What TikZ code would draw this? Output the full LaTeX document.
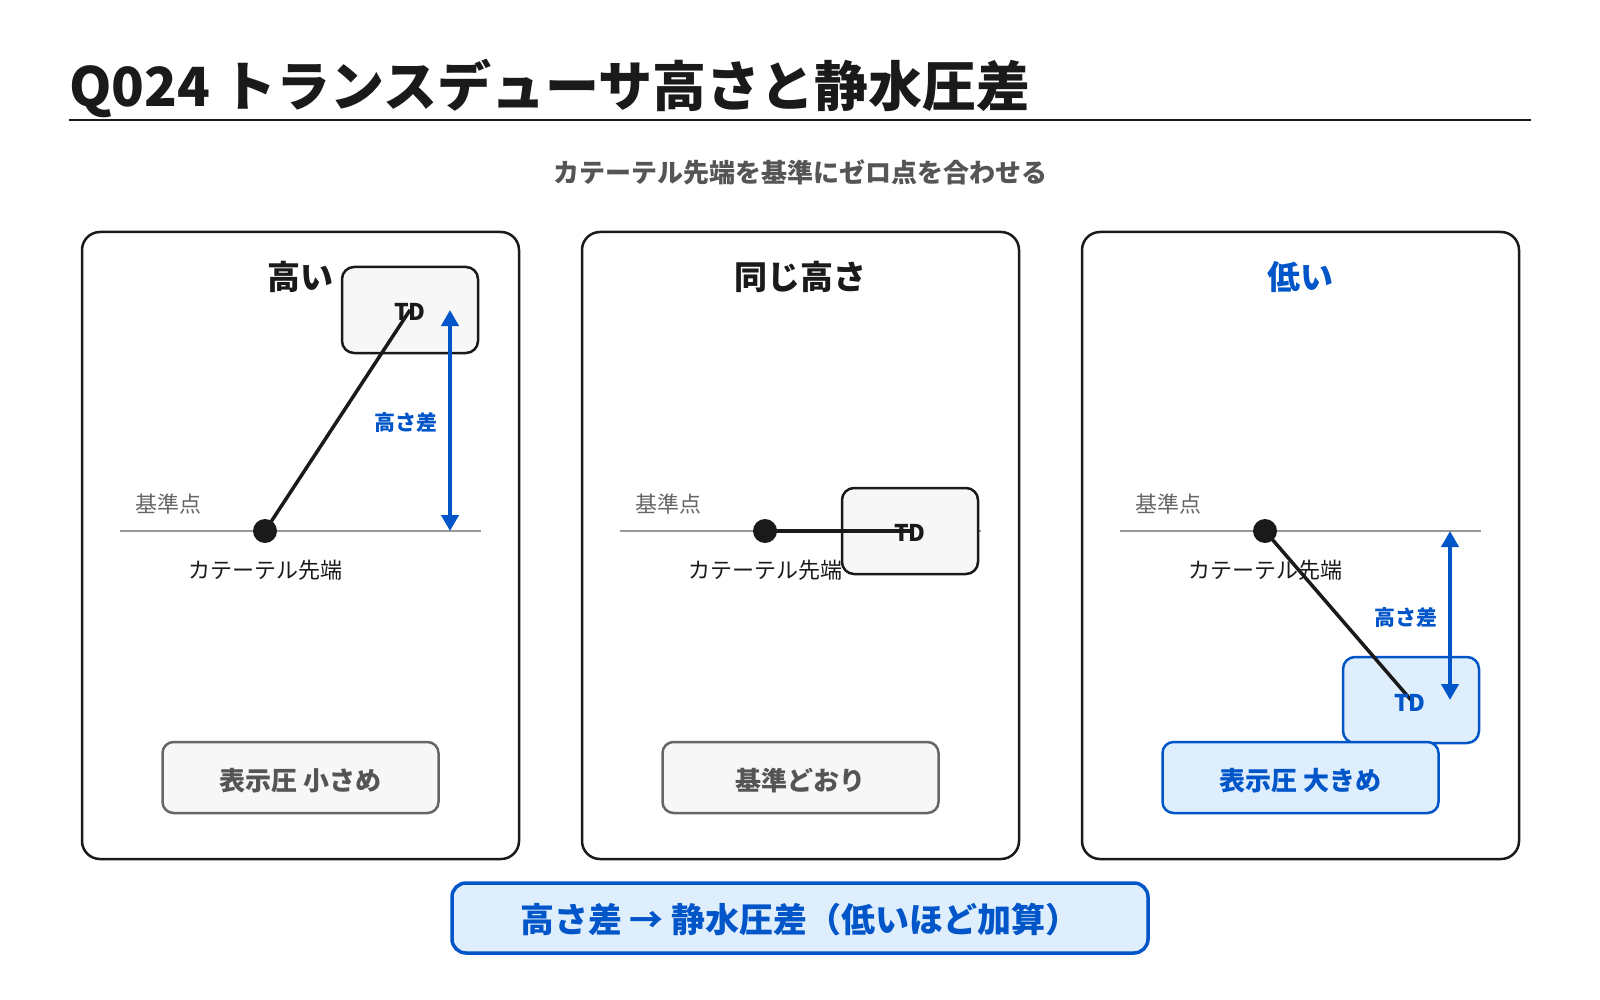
\documentclass[tikz,border=0pt]{standalone}
\usepackage{fontspec}
\setmainfont{Noto Sans CJK JP}
\usetikzlibrary{arrows.meta}
\definecolor{ink}{HTML}{1A1A1A}
\definecolor{refgray}{HTML}{999999}
\definecolor{labgray}{HTML}{666666}
\definecolor{subgray}{HTML}{555555}
\definecolor{boxgray}{HTML}{F7F7F7}
\definecolor{accent}{HTML}{0055C8}
\definecolor{lightblue}{HTML}{DFEEFD}
\newcommand{\fs}[1]{\fontsize{#1}{#1}\selectfont}
\begin{document}
\begin{tikzpicture}[x=1pt,y=-1pt,
  panel/.style={draw=ink, line width=2.5pt, rounded corners=18pt, fill=white,
    minimum width=437pt, minimum height=627pt, inner sep=0pt},
  ptitle/.style={font=\fs{33}\bfseries, text=ink, inner sep=0pt},
  refline/.style={draw=refgray, line width=1.8pt},
  reflab/.style={font=\fs{22}, text=labgray, anchor=west, inner sep=0pt},
  tiplab/.style={font=\fs{22}, text=ink, inner sep=0pt},
  tipdot/.style={circle, fill=ink, minimum size=24pt, inner sep=0pt},
  tdbox/.style={draw=ink, line width=2.5pt, rounded corners=12pt, fill=boxgray,
    minimum width=136pt, minimum height=86pt, inner sep=0pt},
  tdblue/.style={tdbox, draw=accent, fill=lightblue},
  tdtext/.style={font=\fs{23}\bfseries, text=ink, inner sep=0pt},
  cath/.style={draw=ink, line width=3.5pt},
  dim/.style={draw=accent, line width=4pt,
    {Triangle[width=17pt,length=16pt]}-{Triangle[width=17pt,length=16pt]}},
  dimlab/.style={font=\fs{21}\bfseries, text=accent, anchor=east, inner sep=0pt},
  resbox/.style={draw=labgray, line width=2.5pt, rounded corners=11pt, fill=boxgray,
    minimum width=276pt, minimum height=71pt, inner sep=0pt},
  resblue/.style={resbox, draw=accent, fill=lightblue},
  restext/.style={font=\fs{26}\bfseries, text=subgray, inner sep=0pt},
  sumbox/.style={draw=accent, line width=3.5pt, rounded corners=14pt, fill=lightblue,
    minimum width=696pt, minimum height=70pt, inner sep=0pt},
  sumtext/.style={font=\fs{34}\bfseries, text=accent, inner sep=0pt}
]
\useasboundingbox[fill=white] (0,0) rectangle (1600,1000);

% title
\node[anchor=base west, font=\fs{54}\bfseries, text=ink, inner sep=0pt] (title) at (69,107)
  {Q024 トランスデューサ高さと静水圧差};
\coordinate (ruleL) at (69,120);
\coordinate (ruleR) at (1531,120);
\draw[ink, line width=2pt] (ruleL) -- (ruleR);
\node[font=\fs{26}\bfseries, text=subgray, inner sep=0pt] (subtitle) at (800,172)
  {カテーテル先端を基準にゼロ点を合わせる};

% panels
\node[panel] (p1) at (300.5,545.5) {};
\node[panel] (p2) at (800.5,545.5) {};
\node[panel] (p3) at (1300.5,545.5) {};

\node[ptitle] (t1) at (300,277) {高い};
\node[ptitle] (t2) at (800,277) {同じ高さ};
\node[ptitle, text=accent] (t3) at (1300,277) {低い};

% reference lines
\coordinate (r1a) at (120,531); \coordinate (r1b) at (481,531);
\coordinate (r2a) at (620,531); \coordinate (r2b) at (981,531);
\coordinate (r3a) at (1120,531); \coordinate (r3b) at (1481,531);
\draw[refline] (r1a) -- (r1b);
\draw[refline] (r2a) -- (r2b);
\draw[refline] (r3a) -- (r3b);

\node[reflab] (k1) at (135,504) {基準点};
\node[reflab] (k2) at (635,504) {基準点};
\node[reflab] (k3) at (1135,504) {基準点};

\node[tiplab] (l1) at (265,570) {カテーテル先端};
\node[tiplab] (l2) at (765,570) {カテーテル先端};
\node[tiplab] (l3) at (1265,570) {カテーテル先端};

% TD boxes
\node[tdbox] (td1) at (410,310) {};
\node[tdbox] (td2) at (910,531) {};
\node[tdblue] (td3) at (1411,700) {};

% catheter tips
\node[tipdot] (c1) at (265,531) {};
\node[tipdot] (c2) at (765,531) {};
\node[tipdot] (c3) at (1265,531) {};

\draw[cath] (c1.center) -- (td1.center);
\draw[cath] (c2.center) -- (td2.center);
\draw[cath] (c3.center) -- (td3.center);

\node[tdtext] (tx1) at (410,312) {TD};
\node[tdtext] (tx2) at (910,533) {TD};
\node[tdtext, text=accent] (tx3) at (1410,703) {TD};

% height difference arrows
\coordinate (a1t) at (450,310); \coordinate (a1b) at (450,531);
\draw[dim] (a1t) -- (a1b);
\node[dimlab] (h1) at (438,423) {高さ差};
\coordinate (a3t) at (1450,531); \coordinate (a3b) at (1450,700);
\draw[dim] (a3t) -- (a3b);
\node[dimlab] (h3) at (1438,618) {高さ差};

% result boxes
\node[resbox] (res1) at (300.5,777.5) {};
\node[restext] (rt1) at (300.5,781) {表示圧 小さめ};
\node[resbox] (res2) at (800.5,777.5) {};
\node[restext] (rt2) at (800.5,781) {基準どおり};
\node[resblue] (res3) at (1300.5,777.5) {};
\node[restext, text=accent] (rt3) at (1300.5,781) {表示圧 大きめ};

% summary
\node[sumbox] (sum) at (800,918) {};
\node[sumtext] (sumt) at (800,920) {高さ差 → 静水圧差（低いほど加算）};
\end{tikzpicture}
\end{document}
